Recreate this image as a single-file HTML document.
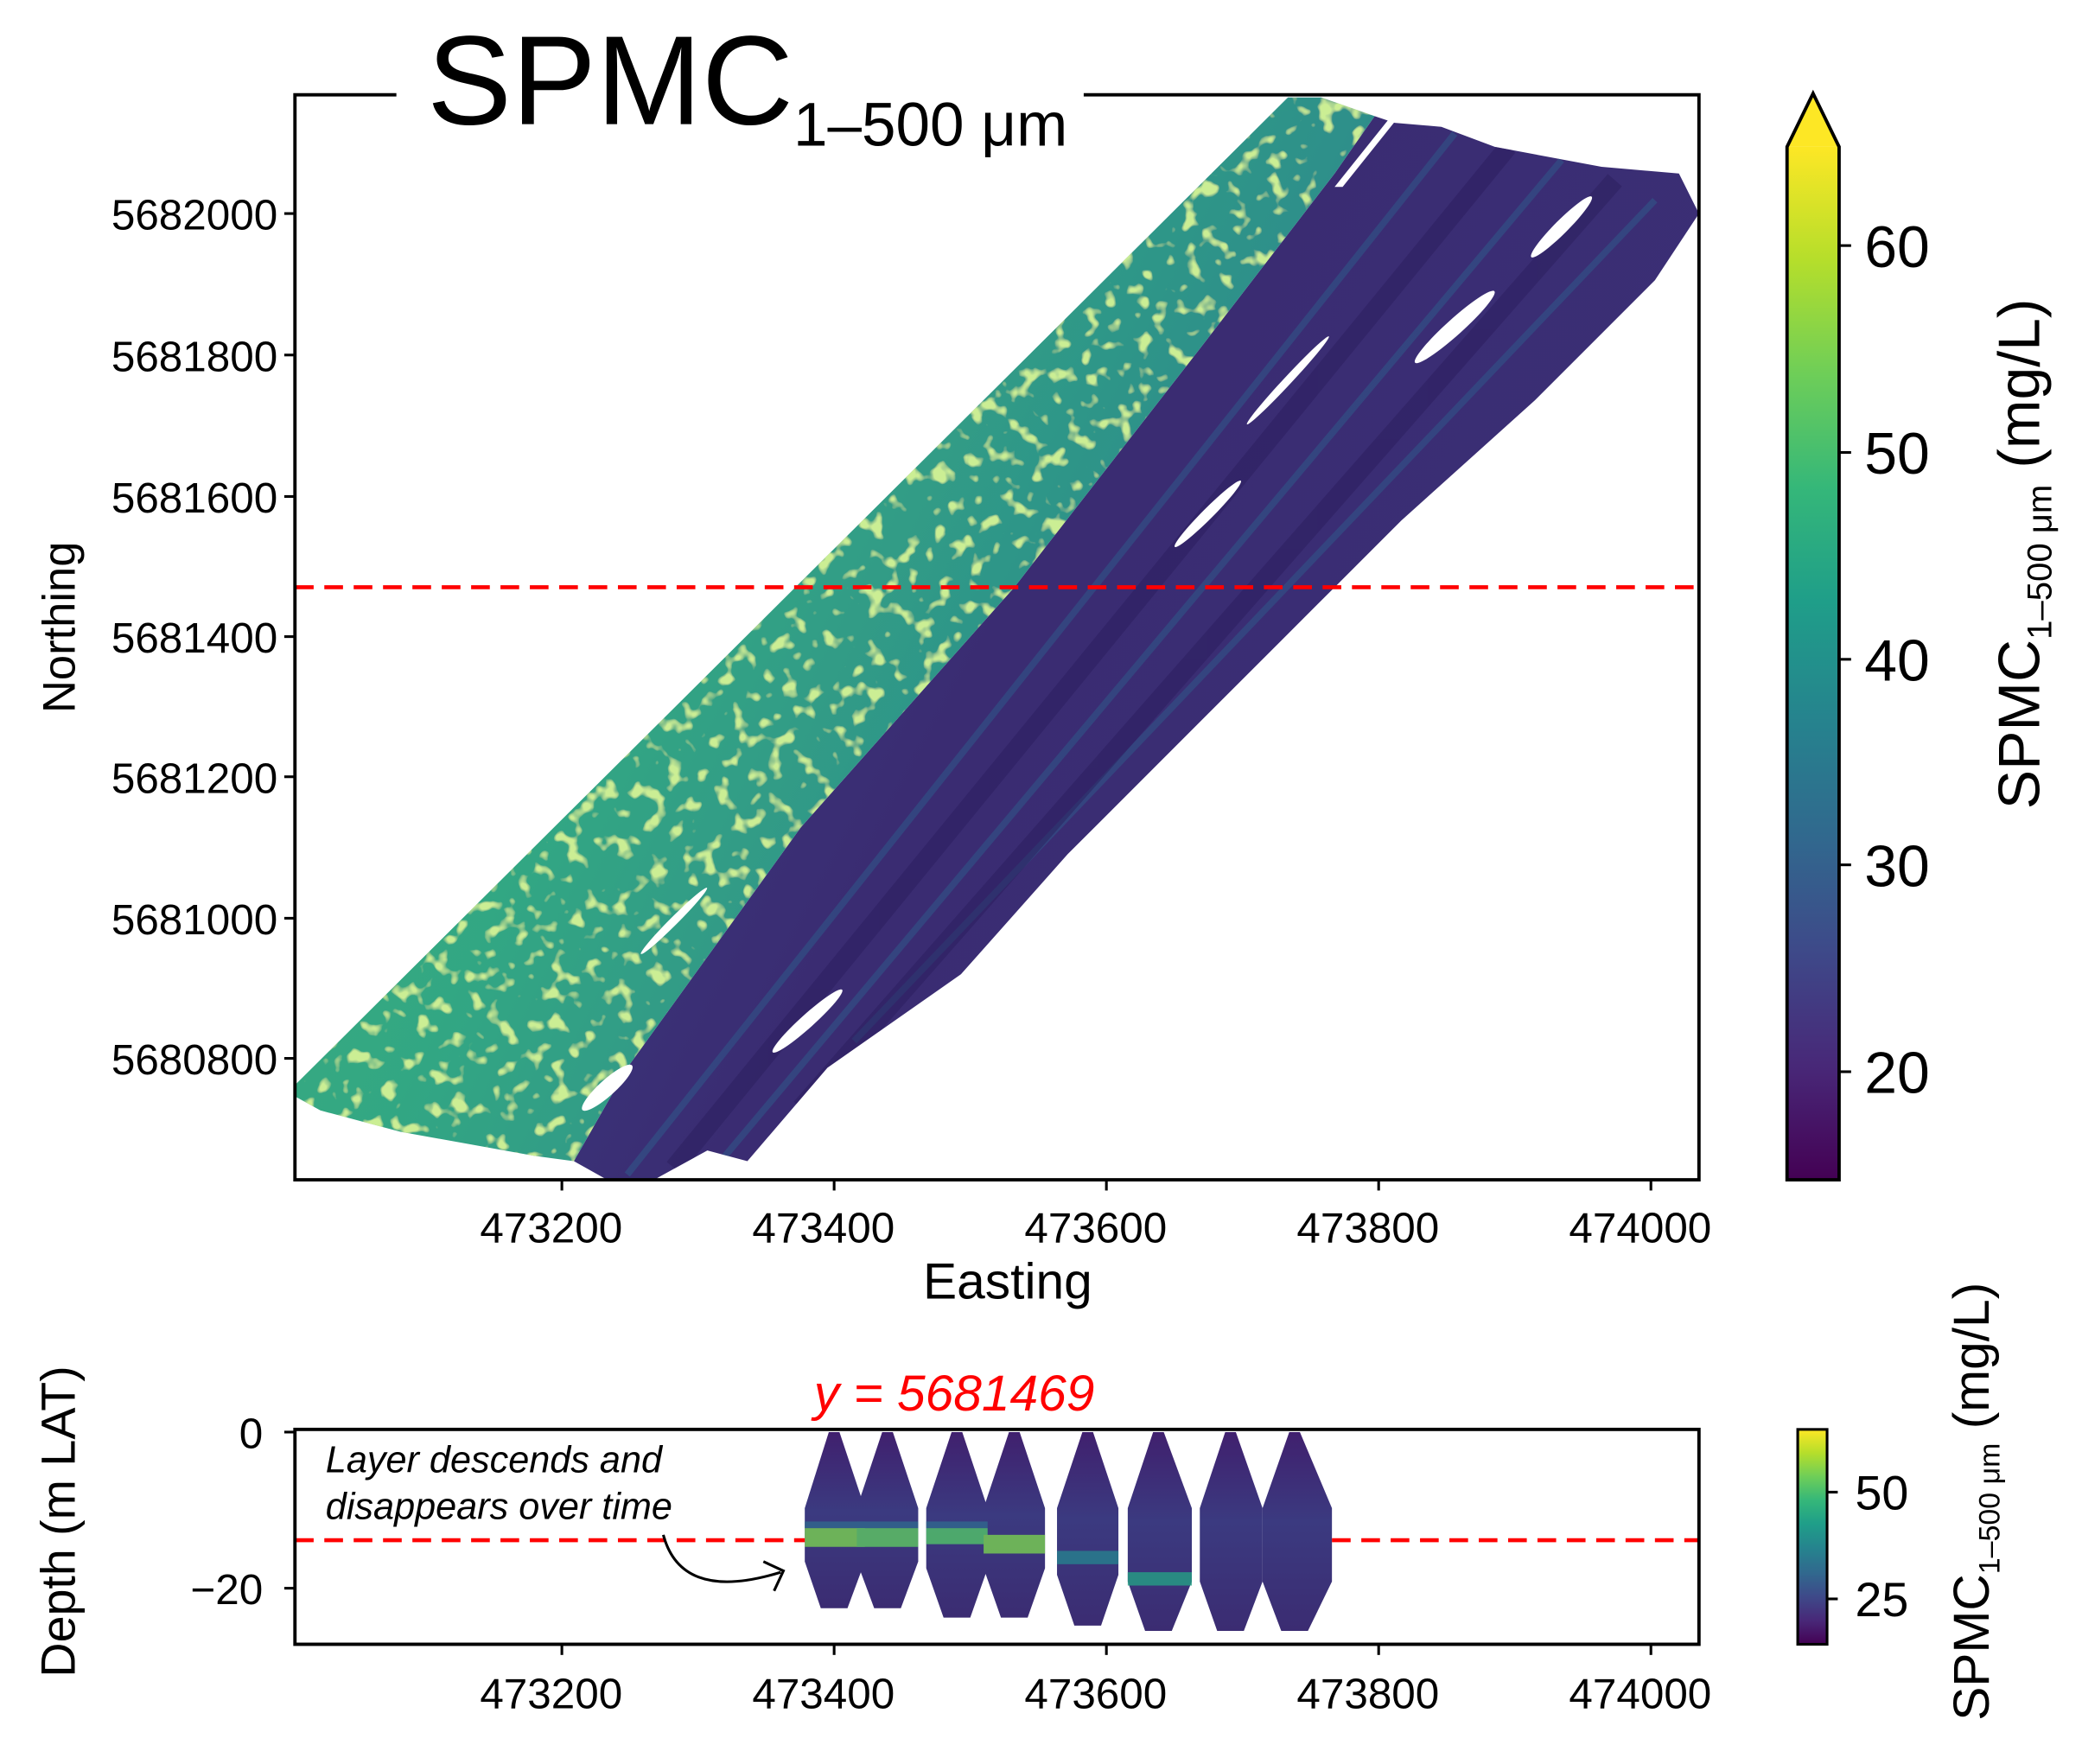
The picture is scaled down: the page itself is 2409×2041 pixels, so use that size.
<!DOCTYPE html>
<html><head><meta charset="utf-8"><style>html,body{margin:0;padding:0;background:#fff}svg{display:block}text{font-family:"Liberation Sans",sans-serif}</style></head><body>
<svg width="2409" height="2041" viewBox="0 0 1560 1321.7" xmlns="http://www.w3.org/2000/svg">
<defs>
<linearGradient id="vir" x1="0" y1="1" x2="0" y2="0">
<stop offset="0" stop-color="#440154"/><stop offset="0.11" stop-color="#482878"/><stop offset="0.22" stop-color="#3e4989"/><stop offset="0.33" stop-color="#31688e"/><stop offset="0.44" stop-color="#26828e"/><stop offset="0.56" stop-color="#1f9e89"/><stop offset="0.67" stop-color="#35b779"/><stop offset="0.78" stop-color="#6ece58"/><stop offset="0.89" stop-color="#b5de2b"/><stop offset="1" stop-color="#fde725"/>
</linearGradient>
<linearGradient id="gr" x1="0" y1="0" x2="1" y2="0.5">
<stop offset="0" stop-color="#3aaf7b"/><stop offset="0.45" stop-color="#33a783"/><stop offset="0.8" stop-color="#2d8f8a"/><stop offset="1" stop-color="#2e6f8d"/>
</linearGradient>
<linearGradient id="pu" x1="0" y1="0" x2="1" y2="0.5">
<stop offset="0" stop-color="#3a3f84"/><stop offset="0.5" stop-color="#3a2c72"/><stop offset="1" stop-color="#3b2f76"/>
</linearGradient>
<linearGradient id="lz" x1="0" y1="0" x2="0" y2="1">
<stop offset="0" stop-color="#40206e"/><stop offset="0.45" stop-color="#3b3a80"/><stop offset="1" stop-color="#3b2c72"/>
</linearGradient>
<filter id="spk" x="0" y="0" width="1" height="1">
<feTurbulence type="fractalNoise" baseFrequency="0.08" numOctaves="2" seed="3" result="n"/>
<feColorMatrix in="n" type="matrix" values="0 0 0 0 0.6  0 0 0 0 0.85  0 0 0 0 0.3  0 0 0 7 -4.0" result="y"/>
<feComposite in="y" in2="SourceAlpha" operator="in" result="ys"/>
<feMerge><feMergeNode in="SourceGraphic"/><feMergeNode in="ys"/></feMerge>
</filter>
<clipPath id="ax"><rect x="221" y="71" width="1052" height="813"/></clipPath>
<clipPath id="pc"><polygon points="430,870 470,800 600,620 760,440 900,260 1000,130 1030,87 1045,92 1080,95 1120,110 1200,125 1258,130 1273,160 1240,210 1150,300 1050,390 1000,440 960,480 880,560 800,640 720,730 620,800 560,870 530,862 490,884 455,884"/></clipPath>
</defs>
<g clip-path="url(#ax)">
<polygon fill="url(#pu)" points="430,870 470,800 600,620 760,440 900,260 1000,130 1030,87 1045,92 1080,95 1120,110 1200,125 1258,130 1273,160 1240,210 1150,300 1050,390 1000,440 960,480 880,560 800,640 720,730 620,800 560,870 530,862 490,884 455,884"/>
<g clip-path="url(#pc)">
<g fill="none" stroke="#2e5d8c" stroke-width="5" opacity="0.5">
<line x1="470" y1="880" x2="1090" y2="100"/><line x1="540" y1="870" x2="1170" y2="120"/><line x1="640" y1="780" x2="1240" y2="150"/>
</g>
<g fill="none" stroke="#2a1c5c" stroke-width="14" opacity="0.45">
<line x1="505" y1="875" x2="1130" y2="110"/><line x1="600" y1="830" x2="1210" y2="135"/>
</g>
</g>
<polygon fill="url(#gr)" filter="url(#spk)" points="222,812 965,73 990,73 1030,87 1000,130 900,260 760,440 600,620 470,800 430,870 400,866 300,848 240,832 222,822"/>
<g fill="#fff">
<ellipse cx="455" cy="815" rx="25" ry="6" transform="rotate(-42 455 815)"/>
<ellipse cx="605" cy="765" rx="35" ry="5" transform="rotate(-42 605 765)"/>
<ellipse cx="905" cy="385" rx="35" ry="4" transform="rotate(-45 905 385)"/>
<ellipse cx="1090" cy="245" rx="40" ry="6" transform="rotate(-42 1090 245)"/>
<ellipse cx="1170" cy="170" rx="32" ry="5" transform="rotate(-45 1170 170)"/>
<ellipse cx="965" cy="285" rx="45" ry="3" transform="rotate(-47 965 285)"/>
<ellipse cx="505" cy="690" rx="35" ry="3" transform="rotate(-45 505 690)"/>
<polygon points="1000,140 1040,90 1046,90 1006,140"/>
</g>
</g>
<line x1="221" y1="440" x2="1273" y2="440" stroke="#f00" stroke-width="3" stroke-dasharray="14,8"/>
<polyline points="297,71 221,71 221,884 1273,884 1273,71 812,71" fill="none" stroke="#000" stroke-width="2.5"/>
<g stroke="#000" stroke-width="2">
<line x1="213" y1="160" x2="221" y2="160"/><line x1="213" y1="266" x2="221" y2="266"/><line x1="213" y1="372" x2="221" y2="372"/><line x1="213" y1="477" x2="221" y2="477"/><line x1="213" y1="582" x2="221" y2="582"/><line x1="213" y1="688" x2="221" y2="688"/><line x1="213" y1="793" x2="221" y2="793"/>
<line x1="421" y1="884" x2="421" y2="892"/><line x1="625" y1="884" x2="625" y2="892"/><line x1="829" y1="884" x2="829" y2="892"/><line x1="1033" y1="884" x2="1033" y2="892"/><line x1="1237" y1="884" x2="1237" y2="892"/>
</g>
<g font-size="32" text-anchor="end">
<text x="208" y="172">5682000</text><text x="208" y="278">5681800</text><text x="208" y="384">5681600</text><text x="208" y="489">5681400</text><text x="208" y="594">5681200</text><text x="208" y="700">5681000</text><text x="208" y="805">5680800</text>
</g>
<g font-size="32" text-anchor="middle">
<text x="413" y="931">473200</text><text x="617" y="931">473400</text><text x="821" y="931">473600</text><text x="1025" y="931">473800</text><text x="1229" y="931">474000</text>
</g>
<text x="755" y="973" font-size="38" text-anchor="middle">Easting</text>
<text transform="translate(56,470) rotate(-90)" font-size="34" text-anchor="middle">Northing</text>
<text x="320" y="93" font-size="95">SPMC<tspan font-size="46" dy="16">1–500 μm</tspan></text>
<rect x="1339" y="110" width="39" height="774" fill="url(#vir)"/>
<polygon points="1339,110 1358.5,70 1378,110" fill="#fde725"/>
<polygon points="1339,884 1339,110 1358.5,70 1378,110 1378,884" fill="none" stroke="#000" stroke-width="2.5"/>
<g stroke="#000" stroke-width="2"><line x1="1378" y1="184" x2="1387" y2="184"/><line x1="1378" y1="339" x2="1387" y2="339"/><line x1="1378" y1="494" x2="1387" y2="494"/><line x1="1378" y1="648" x2="1387" y2="648"/><line x1="1378" y1="803" x2="1387" y2="803"/></g>
<g font-size="44"><text x="1397" y="200">60</text><text x="1397" y="355">50</text><text x="1397" y="510">40</text><text x="1397" y="664">30</text><text x="1397" y="819">20</text></g>
<text transform="translate(1528,415) rotate(-90)" font-size="44" text-anchor="middle">SPMC<tspan font-size="26" dy="9">1–500 μm</tspan><tspan dy="-9"> (mg/L)</tspan></text>
<g fill="url(#lz)">
<polygon points="621,1073 629,1073 648,1130 648,1170 635,1205 615,1205 603,1170 603,1130"/>
<polygon points="661,1073 669,1073 688,1130 688,1170 675,1205 655,1205 642,1170 642,1130"/>
<polygon points="713,1073 721,1073 740,1130 740,1175 727,1212 707,1212 694,1175 694,1130"/>
<polygon points="756,1073 764,1073 783,1130 783,1175 770,1212 750,1212 737,1175 737,1130"/>
<polygon points="811,1073 819,1073 838,1130 838,1180 825,1218 805,1218 792,1180 792,1130"/>
<polygon points="864,1073 872,1073 893,1130 893,1185 878,1222 858,1222 845,1185 845,1130"/>
<polygon points="918,1073 926,1073 946,1130 946,1185 932,1222 912,1222 899,1185 899,1130"/>
<polygon points="966,1073 974,1073 998,1130 998,1185 980,1222 960,1222 946,1185 946,1130"/>
</g>
<g opacity="0.8">
<rect x="603" y="1140" width="45" height="5" fill="#31688e"/><rect x="642" y="1140" width="46" height="5" fill="#31688e"/><rect x="694" y="1140" width="46" height="5" fill="#31688e"/>
<rect x="603" y="1145" width="45" height="14" fill="#7ad151"/><rect x="642" y="1145" width="46" height="14" fill="#5ec962"/><rect x="694" y="1145" width="46" height="12" fill="#52c569"/><rect x="737" y="1150" width="46" height="14" fill="#7ad151"/>
<rect x="792" y="1162" width="46" height="10" fill="#26828e"/><rect x="845" y="1178" width="48" height="10" fill="#25a085"/>
</g>
<line x1="221" y1="1154" x2="603" y2="1154" stroke="#f00" stroke-width="3" stroke-dasharray="14,8"/>
<line x1="998" y1="1154" x2="1273" y2="1154" stroke="#f00" stroke-width="3" stroke-dasharray="14,8"/>
<rect x="221" y="1071" width="1052" height="161" fill="none" stroke="#000" stroke-width="2.5"/>
<g stroke="#000" stroke-width="2"><line x1="213" y1="1073" x2="221" y2="1073"/><line x1="213" y1="1190" x2="221" y2="1190"/>
<line x1="421" y1="1232" x2="421" y2="1240"/><line x1="625" y1="1232" x2="625" y2="1240"/><line x1="829" y1="1232" x2="829" y2="1240"/><line x1="1033" y1="1232" x2="1033" y2="1240"/><line x1="1237" y1="1232" x2="1237" y2="1240"/></g>
<g font-size="32" text-anchor="end"><text x="197" y="1085">0</text><text x="197" y="1202">−20</text></g>
<g font-size="32" text-anchor="middle">
<text x="413" y="1280">473200</text><text x="617" y="1280">473400</text><text x="821" y="1280">473600</text><text x="1025" y="1280">473800</text><text x="1229" y="1280">474000</text>
</g>
<text transform="translate(56,1140) rotate(-90)" font-size="36" text-anchor="middle">Depth (m LAT)</text>
<text x="715" y="1057" font-size="38" font-style="italic" fill="#f00" text-anchor="middle">y = 5681469</text>
<g font-size="28" font-style="italic"><text x="244" y="1103">Layer descends and</text><text x="244" y="1138">disappears over time</text></g>
<path d="M497,1150 C505,1180 530,1195 585,1178" fill="none" stroke="#000" stroke-width="2"/>
<polyline points="572,1170 587,1177 580,1192" fill="none" stroke="#000" stroke-width="2"/>
<rect x="1347" y="1071" width="22" height="161" fill="url(#vir)" stroke="#000" stroke-width="2"/>
<g stroke="#000" stroke-width="2"><line x1="1369" y1="1118" x2="1377" y2="1118"/><line x1="1369" y1="1198" x2="1377" y2="1198"/></g>
<g font-size="36"><text x="1390" y="1131">50</text><text x="1390" y="1211">25</text></g>
<text transform="translate(1490,1125) rotate(-90)" font-size="38" text-anchor="middle">SPMC<tspan font-size="22" dy="8">1–500 μm</tspan><tspan dy="-8"> (mg/L)</tspan></text>
</svg>
</body></html>
